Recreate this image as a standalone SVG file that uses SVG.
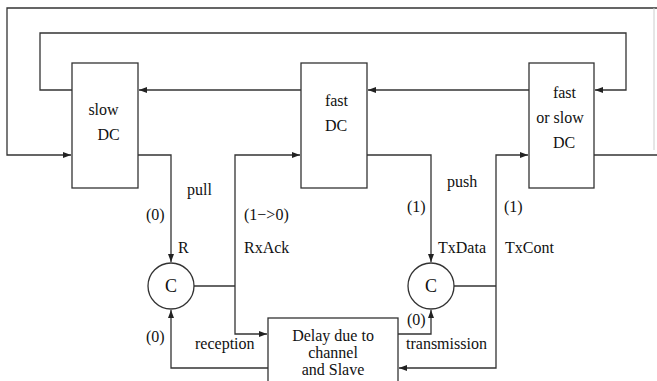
<svg xmlns="http://www.w3.org/2000/svg" width="657" height="381" viewBox="0 0 657 381">
<defs>
<marker id="ah" markerUnits="userSpaceOnUse" markerWidth="9" markerHeight="7" refX="8" refY="3" orient="auto">
<path d="M0,0 L8,3 L0,6 z" fill="#222"/>
</marker>
<style>
.ln{fill:none;stroke:#333;stroke-width:1.3}
.box{fill:#fff;stroke:#333;stroke-width:1.3}
.t{font-size:16px;fill:#111}
.c{font-size:18px;fill:#111;text-anchor:middle}
.m{text-anchor:middle}
</style>
</defs>
<rect width="657" height="381" fill="#fff"/>
<g id="connectors">
<path class="ln" d="M657,8 H7 V155 H71" marker-end="url(#ah)"/>
<path class="ln" d="M594,155 H657"/>
<path d="M654,8 V150" fill="none" stroke="#ccc" stroke-width="1"/>
<path class="ln" d="M72,90 H40 V33 H626 V90 H595" marker-end="url(#ah)"/>
<path class="ln" d="M301,90 H139" marker-end="url(#ah)"/>
<path class="ln" d="M529,90 H368" marker-end="url(#ah)"/>
<path class="ln" d="M138,155 H171 V262" marker-end="url(#ah)"/>
<path class="ln" d="M194,286 H235"/>
<path class="ln" d="M235,286 V155 H300" marker-end="url(#ah)"/>
<path class="ln" d="M235,286 V334 H267" marker-end="url(#ah)"/>
<path class="ln" d="M268,368 H171 V310" marker-end="url(#ah)"/>
<path class="ln" d="M367,155 H431 V262" marker-end="url(#ah)"/>
<path class="ln" d="M454,286 H496"/>
<path class="ln" d="M496,286 V155 H528" marker-end="url(#ah)"/>
<path class="ln" d="M496,286 V368 H399" marker-end="url(#ah)"/>
<path class="ln" d="M398,334 H431 V310" marker-end="url(#ah)"/>
</g>
<g font-family="Liberation Serif, serif">
<g id="slowDC">
<rect class="box" x="72" y="63" width="66" height="125"/>
<text class="t m" x="103.5" y="115">slow</text>
<text class="t m" x="108.5" y="140">DC</text>
</g>
<g id="fastDC">
<rect class="box" x="301" y="63" width="66" height="125"/>
<text class="t m" x="336.5" y="106">fast</text>
<text class="t m" x="336" y="131">DC</text>
</g>
<g id="fastOrSlowDC">
<rect class="box" x="529" y="63" width="65" height="125"/>
<text class="t m" x="564.5" y="98">fast</text>
<text class="t m" x="560" y="123">or slow</text>
<text class="t m" x="564" y="148">DC</text>
</g>
<g id="C1">
<circle cx="171" cy="286" r="23" fill="#fff" stroke="#333" stroke-width="1.3"/>
<text class="c" x="171" y="292">C</text>
</g>
<g id="C2">
<circle cx="431" cy="286" r="23" fill="#fff" stroke="#333" stroke-width="1.3"/>
<text class="c" x="431" y="292">C</text>
</g>
<g id="delay">
<rect class="box" x="268" y="318" width="130" height="75"/>
<text class="t m" x="333" y="341">Delay due to</text>
<text class="t m" x="333" y="358">channel</text>
<text class="t m" x="333" y="375">and Slave</text>
</g>
<g id="labels">
<text class="t" x="187" y="195">pull</text>
<text class="t" x="146" y="220">(0)</text>
<text class="t" x="178" y="253">R</text>
<text class="t" x="244" y="220">(1−&gt;0)</text>
<text class="t" x="244" y="253">RxAck</text>
<text class="t" x="146" y="342">(0)</text>
<text class="t" x="195" y="349">reception</text>
<text class="t" x="447" y="187">push</text>
<text class="t" x="407" y="212">(1)</text>
<text class="t" x="438" y="253">TxData</text>
<text class="t" x="504" y="212">(1)</text>
<text class="t" x="505" y="253">TxCont</text>
<text class="t" x="407" y="325">(0)</text>
<text class="t" x="406" y="349">transmission</text>
</g>
</g>
</svg>
